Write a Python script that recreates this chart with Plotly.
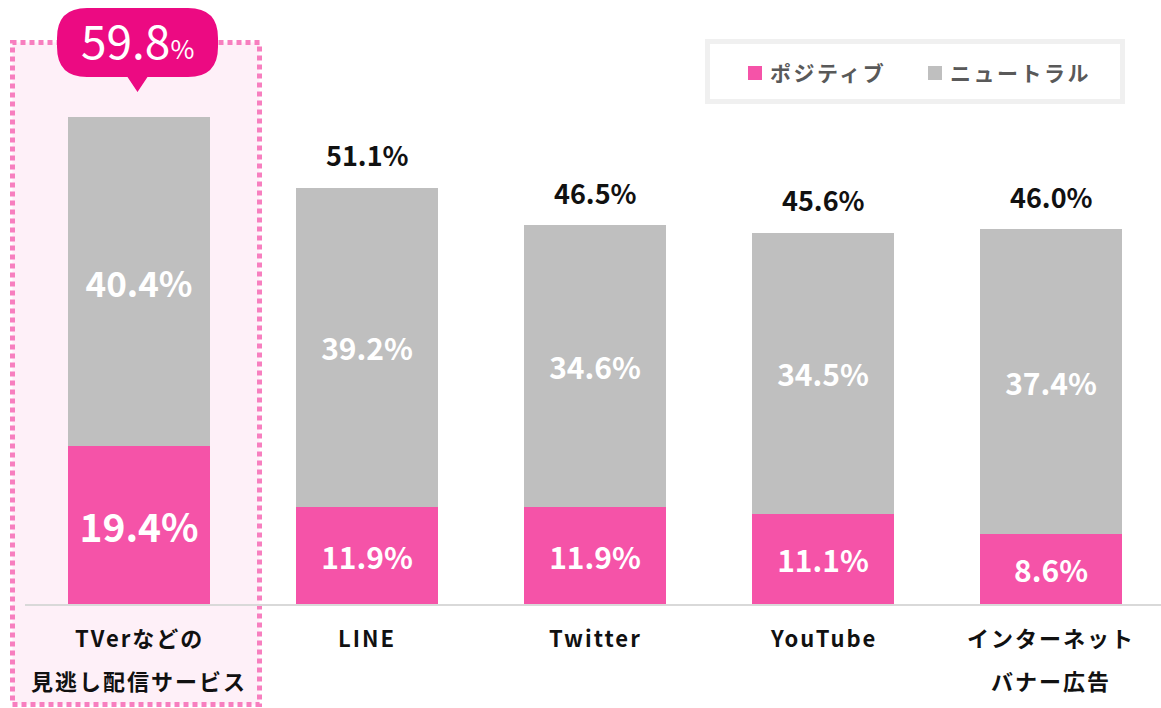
import plotly.graph_objects as go

categories = ["TVerなどの<br>見逃し配信サービス", "LINE", "Twitter", "YouTube", "インターネット<br>バナー広告"]
positive = [19.4, 11.9, 11.9, 11.1, 8.6]
neutral = [40.4, 39.2, 34.6, 34.5, 37.4]
totals = [59.8, 51.1, 46.5, 45.6, 46.0]
series_names = ["ポジティブ", "ニュートラル"]

PINK = "#F553A8"
GRAY = "#BFBFBF"
MAGENTA = "#EC0A82"
FONT = "Noto Sans CJK JP"

W, H = 1161, 708
ML, MR, MT, MB = 25, 0, 0, 104
PW, PH = W - ML - MR, H - MT - MB
CAT_PX = 228.0
YMAX = PH / 8.144

xs = list(range(len(categories)))


def px(x):
    return (x - ML) / PW


def py(y):
    return (MT + PH - y) / PH


def spaced(t, ls):
    return f"<span style='letter-spacing:{ls}px'>{t}</span>"


fig = go.Figure()
fig.add_bar(
    x=xs, y=positive, name=series_names[0], marker_color=PINK, marker_line_width=0,
    text=[f"{v:.1f}%" for v in positive], textposition="inside", insidetextanchor="middle",
    textfont=dict(color="white", size=[39, 30, 30, 30, 30], family=FONT, weight="bold"),
    width=0.623, showlegend=False, cliponaxis=False,
)
fig.add_bar(
    x=xs, y=neutral, name=series_names[1], marker_color=GRAY, marker_line_width=0,
    text=[f"{v:.1f}%" for v in neutral], textposition="inside", insidetextanchor="middle",
    textfont=dict(color="white", size=[35, 30, 30, 30, 30], family=FONT, weight="bold"),
    width=0.623, showlegend=False, cliponaxis=False,
)

shapes = []
annotations = []

# highlight box around the first category
shapes.append(dict(type="rect", xref="paper", yref="paper", layer="below",
                   x0=px(12.5), x1=px(259.5), y0=py(704.5), y1=py(42.5),
                   fillcolor="#FEF0F8", line=dict(color="#F77FBF", width=5, dash="5px,4px")))

# totals above bars (others)
for i in xs[1:]:
    annotations.append(dict(x=i, y=totals[i], xref="x", yref="y", yshift=33,
                            xanchor="center", yanchor="middle",
                            text=f"{totals[i]:.1f}%", showarrow=False,
                            font=dict(family=FONT, size=27, color="#111111", weight="bold")))

# callout for first bar
cx = 137.5
tip_y = 92
bx0, bx1 = cx - 80.5, cx + 80.5
by0, by1 = 8, 77
r = 30
tri = 10
path = (
    f"M{px(bx0 + r)},{py(by0)} L{px(bx1 - r)},{py(by0)} "
    f"Q{px(bx1)},{py(by0)} {px(bx1)},{py(by0 + r)} "
    f"L{px(bx1)},{py(by1 - r)} "
    f"Q{px(bx1)},{py(by1)} {px(bx1 - r)},{py(by1)} "
    f"L{px(cx + tri)},{py(by1)} L{px(cx)},{py(tip_y)} L{px(cx - tri)},{py(by1)} "
    f"L{px(bx0 + r)},{py(by1)} "
    f"Q{px(bx0)},{py(by1)} {px(bx0)},{py(by1 - r)} "
    f"L{px(bx0)},{py(by0 + r)} "
    f"Q{px(bx0)},{py(by0)} {px(bx0 + r)},{py(by0)} Z"
)
shapes.append(dict(type="path", xref="paper", yref="paper", path=path,
                   fillcolor=MAGENTA, line=dict(width=0)))
annotations.append(dict(x=px(cx), y=py(39), xref="paper", yref="paper", showarrow=False,
                        xanchor="center", yanchor="middle",
                        text=f"{totals[0]:.1f}<span style='font-size:26px'>%</span>",
                        font=dict(family=FONT, size=46, color="white")))

# category labels
for i, c in enumerate(categories):
    for j, line in enumerate(c.split("<br>")):
        annotations.append(dict(x=i, y=py(637 + 43 * j), xref="x", yref="paper", showarrow=False,
                                xanchor="center", yanchor="middle",
                                text=spaced(line, 2),
                                font=dict(family=FONT, size=22, color="#111111", weight="bold")))

# legend box
shapes.append(dict(type="rect", xref="paper", yref="paper", x0=px(707.5), x1=px(1122.5),
                   y0=py(101.5), y1=py(41.5), fillcolor="white", line=dict(color="#F0F0F0", width=5)))
for name, color, sx in [(series_names[0], PINK, 748), (series_names[1], GRAY, 928)]:
    shapes.append(dict(type="rect", xref="paper", yref="paper", x0=px(sx), x1=px(sx + 14),
                       y0=py(80), y1=py(66), fillcolor=color, line=dict(width=0)))
    annotations.append(dict(x=px(sx + 20), y=py(72), xref="paper", yref="paper", showarrow=False,
                            xanchor="left", yanchor="middle", text=spaced(name, 2.5),
                            font=dict(family=FONT, size=21, color="#595959", weight="bold")))

fig.update_layout(
    width=W, height=H, margin=dict(l=ML, r=MR, t=MT, b=MB),
    barmode="stack", bargap=0.377,
    plot_bgcolor="white", paper_bgcolor="white",
    shapes=shapes, annotations=annotations,
    xaxis=dict(range=[-0.5, -0.5 + PW / CAT_PX], showticklabels=False, showgrid=False,
               zeroline=False, showline=True, linecolor="#D9D9D9", linewidth=2, ticks=""),
    yaxis=dict(range=[0, YMAX], visible=False, showgrid=False),
    uniformtext=dict(mode=False),
)

fig.write_html("out.html", config={"displayModeBar": False},
               post_script="document.body.style.margin='0';document.body.style.padding='0';")
